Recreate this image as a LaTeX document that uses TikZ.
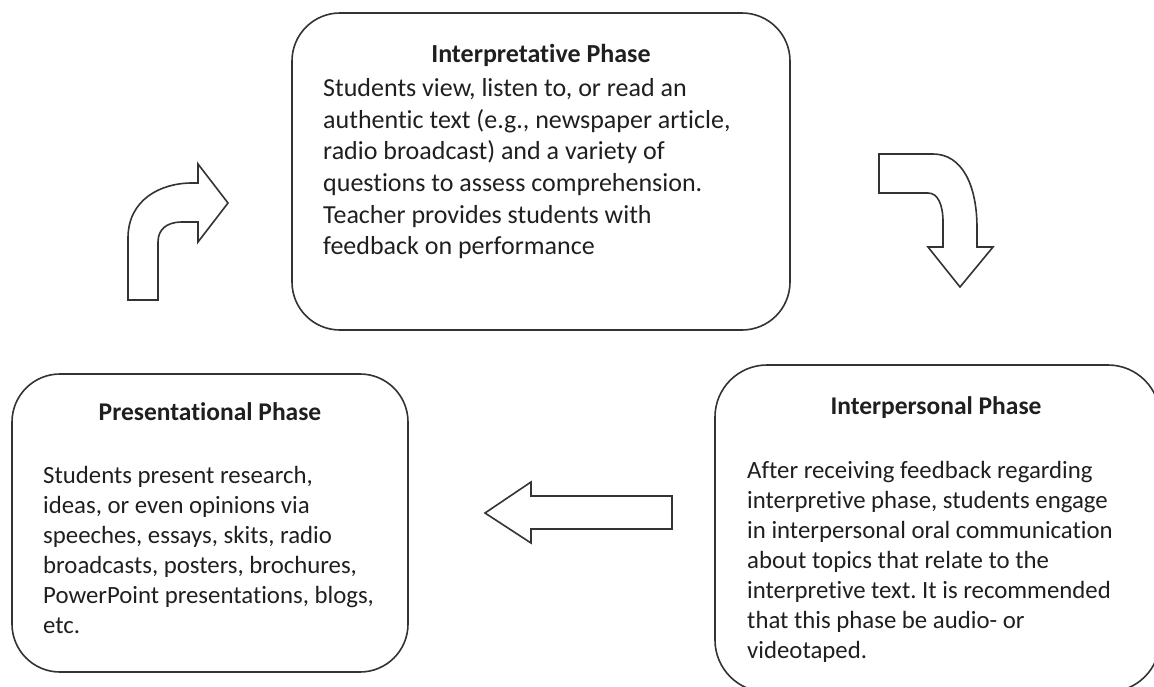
\documentclass[tikz,border=0pt]{standalone}
\usepackage{fontspec}
\setmainfont{Carlito}[Ligatures={NoCommon}]
\frenchspacing
\begin{document}
\begin{tikzpicture}[x=1pt,y=-1pt,
  box/.style={draw=black!80, line width=1.6pt, rounded corners=48pt, inner sep=0pt, fill=none},
  shapearrow/.style={draw=black!80, line width=1.6pt, line join=miter, fill=white},
  bigtext/.style={inner sep=0pt, text=black!88, font=\fontsize{26}{31.6}\selectfont},
  smalltext/.style={inner sep=0pt, text=black!88, font=\fontsize{24.8}{30}\selectfont},
  bigtitle/.style={anchor=base, inner sep=0pt, text=black!88, font=\fontsize{26}{31.6}\selectfont\bfseries},
  smalltitle/.style={anchor=base, inner sep=0pt, text=black!88, font=\fontsize{25.5}{30}\selectfont\bfseries}
]
\useasboundingbox (0,0) rectangle (1154,686);
\clip (0,0) rectangle (1154,686);

% boxes
\node[box, minimum width=498pt, minimum height=317pt] (top) at (541,171.5) {};
\node[box, minimum width=396pt, minimum height=298pt] (left) at (210,523) {};
\node[box, minimum width=445pt, minimum height=327pt, rounded corners=52pt] (right) at (937.5,528.5) {};

% texts
\node[bigtitle] (toptitle) at (541,62.7) {Interpretative Phase};
\node[bigtext, anchor=base west] (topbody) at (323,96.7) {\begin{tabular}[t]{@{}l@{}}
Students view, listen to, or read an\\
authentic text (e.g., newspaper article,\\
radio broadcast) and a variety of\\
questions to assess comprehension.\\
Teacher provides students with\\
feedback on performance
\end{tabular}};

\node[smalltitle] (righttitle) at (936,414) {Interpersonal Phase};
\node[smalltext, anchor=base west] (rightbody) at (747,478) {\begin{tabular}[t]{@{}l@{}}
After receiving feedback regarding\\
interpretive phase, students engage\\
in interpersonal oral communication\\
about topics that relate to the\\
interpretive text. It is recommended\\
that this phase be audio- or\\
videotaped.
\end{tabular}};

\node[smalltitle] (lefttitle) at (210,420) {Presentational Phase};
\node[smalltext, anchor=base west] (leftbody) at (43,483) {\begin{tabular}[t]{@{}l@{}}
Students present research,\\
ideas, or even opinions via\\
speeches, essays, skits, radio\\
broadcasts, posters, brochures,\\
PowerPoint presentations, blogs,\\
etc.
\end{tabular}};

% curved arrow up-right
\draw[shapearrow] (128,300) -- (128,238) .. controls (128,200) and (160,183) .. (192,183)
  -- (198,183) -- (198,164) -- (228,203) -- (198,242) -- (198,222) -- (182,222)
  .. controls (166,222) and (158,230) .. (158,242) -- (158,300) -- cycle;

% curved arrow right-down
\draw[shapearrow] (879,154) -- (933,154) .. controls (962,154) and (977,185) .. (977,228)
  -- (977,247) -- (993,247) -- (960,287) -- (928,247) -- (943,247) -- (943,222)
  .. controls (943,205) and (938,193) .. (928,193) -- (879,193) -- cycle;

% left arrow
\draw[shapearrow] (485,513) -- (531,482) -- (531,496) -- (672,496) -- (672,529)
  -- (531,529) -- (531,543) -- cycle;
\end{tikzpicture}
\end{document}
